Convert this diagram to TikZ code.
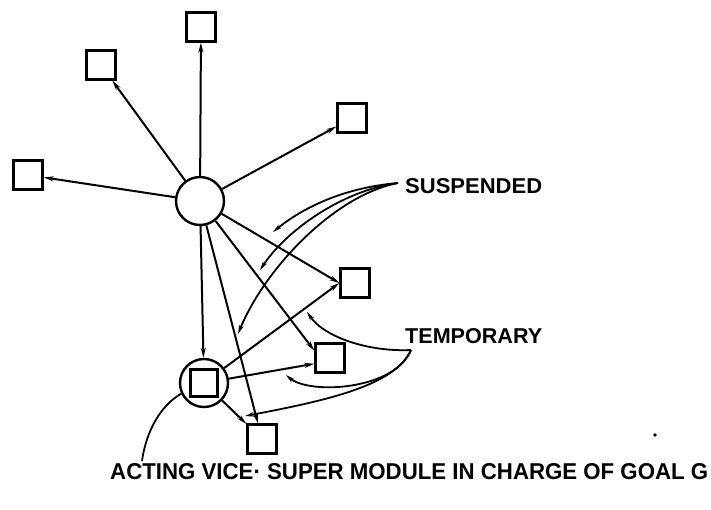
\documentclass[tikz,border=0pt]{standalone}
\usepackage{fontspec}
\setmainfont{Liberation Sans}
\usetikzlibrary{arrows.meta}
\begin{document}
\begin{tikzpicture}[x=1pt,y=-1pt,
  box/.style={draw, line width=2.4pt, minimum size=29pt, inner sep=0pt},
  modcirc/.style={draw, circle, line width=2.4pt, minimum size=48pt, inner sep=0pt},
  link/.style={line width=2pt, -{Stealth[length=10pt,width=5pt]}},
  note/.style={line width=1.8pt, -{Stealth[length=9pt,width=4.5pt]}},
  lbl/.style={inner sep=0pt, anchor=north west},
]
\useasboundingbox (0,0) rectangle (711,509);

% modules
\node[modcirc] (C) at (200,201) {};
\node[box] (T) at (201,27) {};
\node[box] (UL) at (101,65) {};
\node[box] (R) at (352,118) {};
\node[box] (L) at (28,175) {};
\node[box] (RM) at (355,283) {};
\node[box] (LB) at (330,358) {};
\node[box] (B) at (262,439) {};
\node[modcirc] (V) at (204,383) {};
\node[box, minimum size=27pt] (Vb) at (204,383) {};

% links from the super module
\draw[link] (C) -- (T);
\draw[link] (C) -- (UL);
\draw[link] (C) -- (R);
\draw[link] (C) -- (L);
\draw[link] (C) -- (V);
\draw[link] (C) -- (RM.west);
\draw[link] (C.-52) -- (LB.155);
\draw[link] (C) -- (B);

% links from the acting vice super module
\draw[link] (V) -- (RM.west);
\draw[link] (V) -- (LB.200);
\draw[link] (V) -- (B);

% labels
\node[lbl] (susp) at (405,178) {\resizebox{137pt}{15pt}{\bfseries SUSPENDED}};
\node[lbl] (temp) at (405,328) {\resizebox{137pt}{15pt}{\bfseries TEMPORARY}};
\node[lbl] (act) at (110,463) {\resizebox{598pt}{16pt}{\bfseries ACTING VICE· SUPER MODULE IN CHARGE OF GOAL G}};

% note pointers
\coordinate (sJ) at (398,183);
\coordinate (s1) at (273,232);
\coordinate (s2) at (260,270);
\coordinate (s3) at (238,334);
\draw[note] (sJ) .. controls (340,188) and (300,210) .. (s1);
\draw[note] (sJ) .. controls (345,190) and (288,228) .. (s2);
\draw[note] (sJ) .. controls (335,195) and (265,268) .. (s3);

\coordinate (tJ) at (411,350);
\coordinate (t1) at (307,312);
\coordinate (t2) at (286,375);
\coordinate (t3) at (245,416);
\draw[note] (tJ) .. controls (370,352) and (325,338) .. (t1);
\draw[note] (tJ) .. controls (395,390) and (310,395) .. (t2);
\draw[note] (tJ) .. controls (395,385) and (330,400) .. (t3);

\coordinate (ptr) at (142,461);
\draw[line width=1.8pt] (ptr) .. controls (146,432) and (160,406) .. (V.205);

\fill (655,435) circle (1.8pt);
\end{tikzpicture}
\end{document}
